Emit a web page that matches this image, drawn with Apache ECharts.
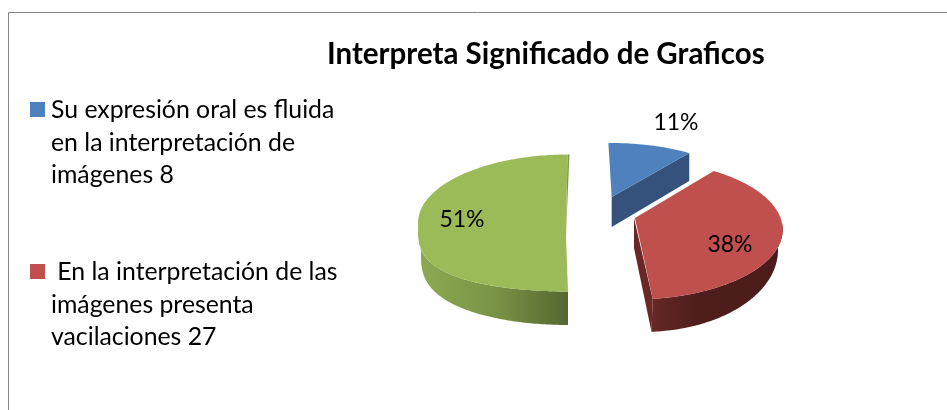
<!DOCTYPE html>
<html>
<head>
<meta charset="utf-8">
<script src="https://cdn.jsdelivr.net/npm/echarts@6/dist/echarts.min.js"></script>
<style>
html,body{margin:0;padding:0;background:#fff;}
#box{width:947px;height:410px;}
</style>
</head>
<body>
<div id="box"></div>
<script>
var titleText = 'Interpreta Significado de Graficos';
var legendTexts = [
    'Su expresión oral es fluida\nen la interpretación de\nimágenes 8',
    ' En la interpretación de las\nimágenes presenta\nvacilaciones 27'
];
var values = [8, 27, 36];
var total = values.reduce(function(a, b){ return a + b }, 0);

var topColors = ['#4F81BD', '#C0504D', '#9BBB59'];
var font = 'Lato, "Open Sans", sans-serif';

// 每块的透视参数: 顶面椭圆, 顶点, 起始角, 角度缩放(透视变形), 底面椭圆
var layout = [
    {cx:611, cy:211, rx:150, ry:68, ax:611.7, ay:197, start:-1, warp:0.8, depth:28, lx:676, ly:123},
    {cx:632.7, cy:229.7, rx:150, ry:69.8, ax:635, ay:218, start:32.7, warp:1.02, depth:30, lx:730, ly:245,
        base:{cx:643, cy:250, rx:135, ry:82, from:90, to:176.4}},
    {cx:568, cy:223, rx:150, ry:68.5, low:0.6, ax:566, ay:237, start:180, warp:0.985, depth:33, lx:462, ly:220,
        base:{cx:568, cy:255, rx:147, ry:70, low:0.75, from:180, to:272}}
];

// low: 下半部分的鼓出程度
function pt(e, deg){
    var t = deg * Math.PI / 180;
    var c = Math.cos(t);
    if(c < 0 && e.low){
        c = -Math.pow(-c, e.low);
    }
    return [e.cx + e.rx * Math.sin(t), e.cy - e.ry * c];
}
function arc(e, from, to){
    var pts = [];
    var n = Math.max(2, Math.ceil(Math.abs(to - from)));
    for(var i = 0; i <= n; i++){
        pts.push(pt(e, from + (to - from) * i / n));
    }
    return pts;
}
function hGrad(stops){
    return new echarts.graphic.LinearGradient(0, 0, 1, 0, stops.map(function(c){
        return {offset: c[0], color: c[1]};
    }));
}

function renderSlice(params, api){
    var i = params.dataIndex;
    var v = api.value(0);
    var s = layout[i];
    var sweep = v / total * 360 * s.warp;
    var a0 = s.start, a1 = s.start + sweep;
    var d = s.depth;
    var kids = [];
    var p1 = pt(s, a1);

    if(i == 0){
        // 蓝色: 只露出切面
        kids.push({type:'polygon', shape:{points:[[s.ax, s.ay], p1, [p1[0], p1[1] + d], [s.ax, s.ay + d + 2]]},
            style:{fill:'#34527B'}});
    }
    if(i == 1){
        var b = s.base;
        var be = pt(b, b.to);
        kids.push({type:'polygon', shape:{points:[[s.ax - 1, s.ay], p1, be, [s.ax - 1, s.ay + d]]},
            style:{fill:'#6A2725'}});
        var wall = arc(s, 84, a1).concat(arc(b, b.to, b.from - 6));
        kids.push({type:'polygon', shape:{points:wall},
            style:{fill:hGrad([[0,'#652825'],[0.35,'#4F1E1C'],[1,'#4A1C1B']])}});
    }
    if(i == 2){
        var b2 = s.base;
        var wall2 = arc(s, 180, 272).concat(arc(b2, b2.to, b2.from));
        kids.push({type:'polygon', shape:{points:wall2},
            style:{fill:hGrad([[0,'#8DAA52'],[0.5,'#7A9446'],[1,'#546830']])}});
        // 中缝的细窄内壁
        kids.push({type:'polygon', shape:{points:[p1, [p1[0] + 2, p1[1]], [s.ax + 0.5, s.ay - 15], [s.ax, s.ay]]},
            style:{fill:'#7E9848'}});
    }

    var face = [[s.ax, s.ay]].concat(arc(s, a0, a1));
    kids.push({type:'polygon', shape:{points:face}, style:{fill:topColors[i]}});

    kids.push({type:'text', style:{
        text: Math.round(v / total * 100) + '%',
        x: s.lx, y: s.ly, align:'center', verticalAlign:'middle',
        font: '23px ' + font, fill:'#000'
    }});
    return {type:'group', children:kids};
}

var legendY = [110, 272];
var graphicItems = [
    {type:'line', shape:{x1:8.5, y1:12.5, x2:947, y2:12.5}, style:{stroke:'#868686', lineWidth:1}},
    {type:'line', shape:{x1:8.5, y1:12.5, x2:8.5, y2:410}, style:{stroke:'#868686', lineWidth:1}}
];
legendTexts.forEach(function(t, i){
    graphicItems.push({type:'rect', shape:{x:30, y:legendY[i] - 8, width:15, height:15}, style:{fill:topColors[i]}});
    graphicItems.push({type:'text', x:51, y:legendY[i] - 16, style:{
        text:t, font:'24.8px ' + font, lineHeight:32.5, fill:'#000', verticalAlign:'top'
    }});
});

var chart = echarts.init(document.getElementById('box'), null, {renderer:'canvas'});
chart.setOption({
    animation:false,
    backgroundColor:'#fff',
    title:{
        text:titleText, left:322, top:34,
        textStyle:{fontFamily:font, fontSize:29.5, fontWeight:'bold', color:'#000'}
    },
    graphic:graphicItems,
    series:[{
        type:'custom',
        coordinateSystem:'none',
        renderItem:renderSlice,
        data:values.map(function(v){ return [v] }),
        silent:true
    }]
});
</script>
</body>
</html>
